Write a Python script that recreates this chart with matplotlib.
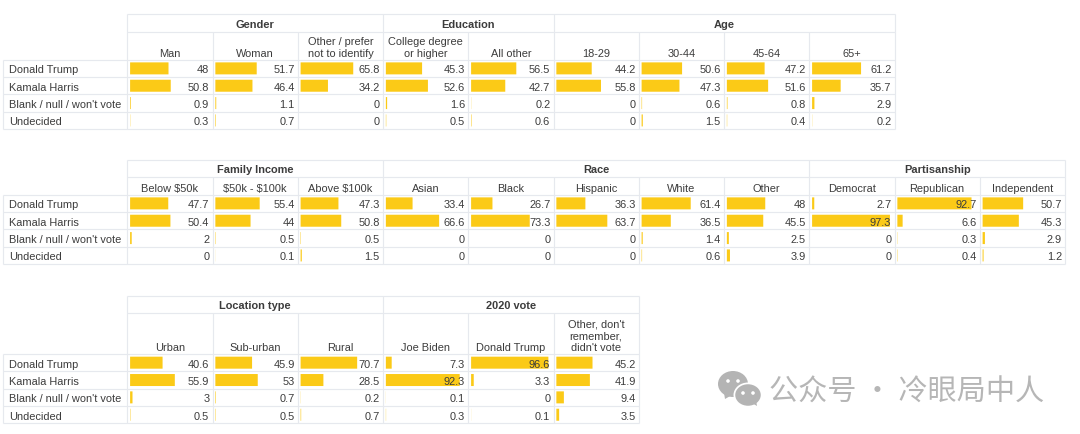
#!/usr/bin/env python3
"""Poll crosstabs drawn as three tables with in-cell bars."""

import matplotlib
matplotlib.use("Agg")
import matplotlib.pyplot as plt
from matplotlib.patches import Ellipse, Polygon

ROW_LABELS = ["Donald Trump", "Kamala Harris", "Blank / null / won't vote", "Undecided"]

# Table 1
GROUPS_1 = [("Gender", 3), ("Education", 2), ("Age", 4)]
COLUMNS_1 = ["Man", "Woman", "Other / prefer\nnot to identify", "College degree\nor higher",
             "All other", "18-29", "30-44", "45-64", "65+"]
TRUMP_1 = [48, 51.7, 65.8, 45.3, 56.5, 44.2, 50.6, 47.2, 61.2]
HARRIS_1 = [50.8, 46.4, 34.2, 52.6, 42.7, 55.8, 47.3, 51.6, 35.7]
BLANK_1 = [0.9, 1.1, 0, 1.6, 0.2, 0, 0.6, 0.8, 2.9]
UNDECIDED_1 = [0.3, 0.7, 0, 0.5, 0.6, 0, 1.5, 0.4, 0.2]

# Table 2
GROUPS_2 = [("Family Income", 3), ("Race", 5), ("Partisanship", 3)]
COLUMNS_2 = ["Below $50k", "$50k - $100k", "Above $100k", "Asian", "Black", "Hispanic",
             "White", "Other", "Democrat", "Republican", "Independent"]
TRUMP_2 = [47.7, 55.4, 47.3, 33.4, 26.7, 36.3, 61.4, 48, 2.7, 92.7, 50.7]
HARRIS_2 = [50.4, 44, 50.8, 66.6, 73.3, 63.7, 36.5, 45.5, 97.3, 6.6, 45.3]
BLANK_2 = [2, 0.5, 0.5, 0, 0, 0, 1.4, 2.5, 0, 0.3, 2.9]
UNDECIDED_2 = [0, 0.1, 1.5, 0, 0, 0, 0.6, 3.9, 0, 0.4, 1.2]

# Table 3
GROUPS_3 = [("Location type", 3), ("2020 vote", 3)]
COLUMNS_3 = ["Urban", "Sub-urban", "Rural", "Joe Biden", "Donald Trump",
             "Other, don't\nremember,\ndidn't vote"]
TRUMP_3 = [40.6, 45.9, 70.7, 7.3, 96.6, 45.2]
HARRIS_3 = [55.9, 53, 28.5, 92.3, 3.3, 41.9]
BLANK_3 = [3, 0.7, 0.2, 0.1, 0, 9.4]
UNDECIDED_3 = [0.5, 0.5, 0.7, 0.3, 0.1, 3.5]

WATERMARK = "公众号 · 冷眼局中人"

# Layout, in reference pixels
LABEL_LEFT = 2.5
FIRST_COL = 127.3
COL_W = 85.25
ROW_H = 17.35
BAR_PER_UNIT = 0.8

GOLD = "#fbca17"
GRID = "#e6e9ee"
INK = "#3c3c3c"
FONT = "Liberation Sans"
FONT_SIZE = 7.9
GRID_LW = 0.85

fig = plt.figure(figsize=(10.8, 4.35), dpi=100)
ax = fig.add_axes([0, 0, 1, 1])
ax.set_xlim(0, 1080)
ax.set_ylim(435, 0)
ax.axis("off")


def put_text(x, y, s, **kw):
    ax.text(x, y, s, family=FONT, fontsize=FONT_SIZE, color=INK,
            va="baseline", parse_math=False, zorder=4, linespacing=1.27, **kw)


def draw_table(top, group_bottom, head_bottom, groups, columns, series):
    n = len(columns)
    right = FIRST_COL + n * COL_W
    rows_top = [head_bottom + i * ROW_H for i in range(len(ROW_LABELS) + 1)]

    # grid lines
    ax.hlines([top, group_bottom], FIRST_COL, right, color=GRID, lw=GRID_LW, zorder=1)
    ax.hlines(rows_top, LABEL_LEFT, right, color=GRID, lw=GRID_LW, zorder=1)
    ax.vlines(LABEL_LEFT, head_bottom, rows_top[-1], color=GRID, lw=GRID_LW, zorder=1)
    ax.vlines(FIRST_COL, top, rows_top[-1], color=GRID, lw=GRID_LW, zorder=1)
    for i in range(1, n + 1):
        ax.vlines(FIRST_COL + i * COL_W, group_bottom, rows_top[-1], color=GRID, lw=GRID_LW, zorder=1)

    # group headers
    start = 0
    for name, span in groups:
        end = start + span
        ax.vlines(FIRST_COL + end * COL_W, top, group_bottom, color=GRID, lw=GRID_LW, zorder=1)
        put_text(FIRST_COL + (start + end) / 2 * COL_W, group_bottom - 4.8, name,
                 ha="center", fontweight="bold")
        start = end

    # column headers
    for i, col in enumerate(columns):
        put_text(FIRST_COL + (i + 0.5) * COL_W, head_bottom - 3.6, col, ha="center")

    # rows
    for r, (label, values) in enumerate(zip(ROW_LABELS, series)):
        y_top = rows_top[r]
        put_text(9, y_top + 12.6, label, ha="left")
        lefts = [FIRST_COL + i * COL_W + 2.8 for i in range(n)]
        widths = [v * BAR_PER_UNIT for v in values]
        bars = ax.barh([y_top + ROW_H / 2] * n, widths, height=12, left=lefts,
                       color=GOLD, linewidth=0, zorder=2)
        for bar in bars:
            bar.set_snap(False)
        for i, v in enumerate(values):
            put_text(FIRST_COL + (i + 1) * COL_W - 3.2, y_top + 12.6, f"{v:g}", ha="right")


draw_table(15.3, 32.7, 60.7, GROUPS_1, COLUMNS_1, [TRUMP_1, HARRIS_1, BLANK_1, UNDECIDED_1])
draw_table(161, 178.3, 195.7, GROUPS_2, COLUMNS_2, [TRUMP_2, HARRIS_2, BLANK_2, UNDECIDED_2])
draw_table(297.3, 314.3, 355, GROUPS_3, COLUMNS_3, [TRUMP_3, HARRIS_3, BLANK_3, UNDECIDED_3])

# watermark icon: two chat bubbles
ICON = "#b4b4b4"
ax.add_patch(Ellipse((733, 385), 30, 26, color=ICON, lw=0, zorder=5))
ax.add_patch(Polygon([(724, 394), (725, 400), (732, 396)], color=ICON, lw=0, zorder=5))
ax.add_patch(Ellipse((748, 396), 29, 25, color="white", lw=0, zorder=6))
ax.add_patch(Ellipse((748, 396), 25.5, 21.5, color=ICON, lw=0, zorder=7))
ax.add_patch(Polygon([(752, 404), (757, 407), (756, 401)], color=ICON, lw=0, zorder=7))
for ex, ey, ez in [(728, 382, 6), (738, 382, 6), (743, 394, 8), (753, 394, 8)]:
    ax.add_patch(Ellipse((ex, ey), 3.6, 3.6, color="white", lw=0, zorder=ez))

ax.text(769, 392.5, WATERMARK, family=["Noto Sans CJK SC", "DejaVu Sans"], fontsize=21,
        color="#b6b6b6", ha="left", va="center", zorder=5)

fig.savefig("out.png", dpi=100, facecolor="white")
